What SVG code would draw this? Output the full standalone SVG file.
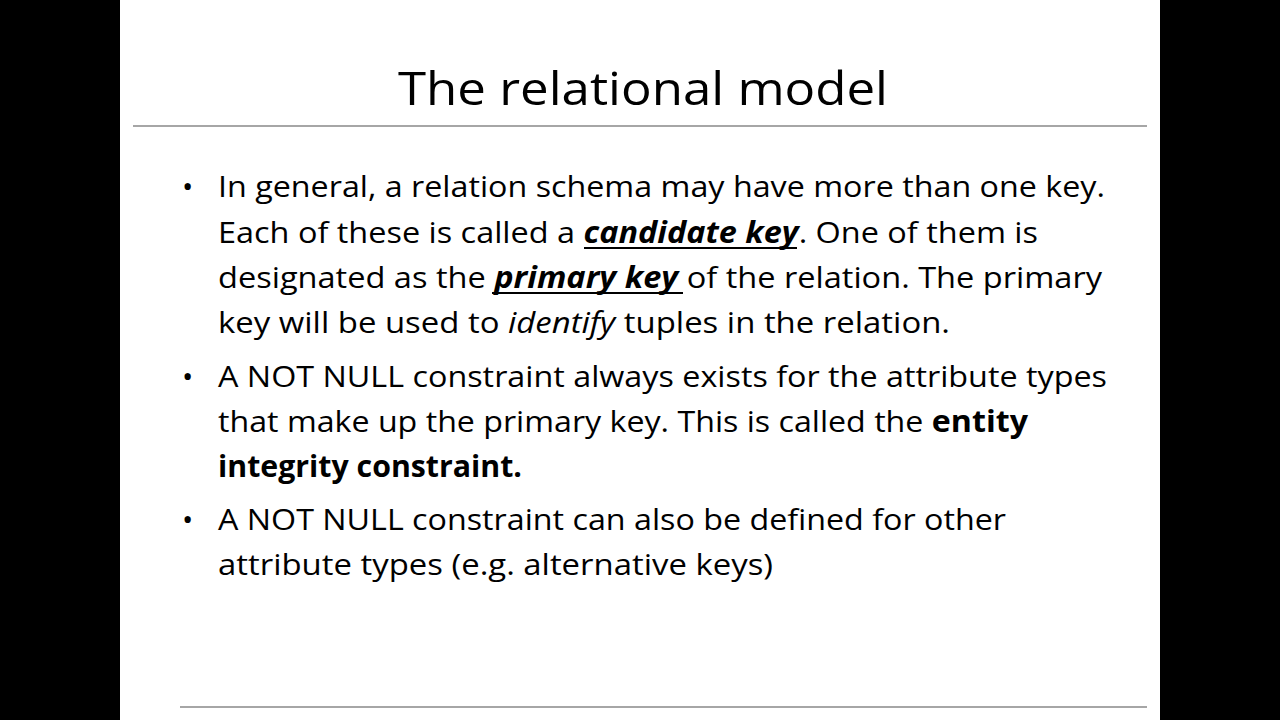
<svg xmlns="http://www.w3.org/2000/svg" width="1280" height="720" viewBox="0 0 1280 720">
<style>
.b{font-family:"Open Sans","Liberation Sans",sans-serif;font-size:30px;fill:#000}
.t{font-family:"Open Sans","Liberation Sans",sans-serif;font-size:46px;fill:#000}
</style>
<rect width="1280" height="720" fill="#000"/>
<rect x="120" y="0" width="1040" height="720" fill="#fff"/>
<g id="title"><text class="t" x="643" y="105" text-anchor="middle" textLength="490" lengthAdjust="spacingAndGlyphs">The relational model</text></g>
<g id="rules" stroke="#888" stroke-width="1.5">
<line x1="133" y1="126" x2="1147" y2="126"/>
<line x1="180" y1="707" x2="1147" y2="707"/>
</g>
<g id="bullets" class="b">
<text x="182" y="197">•</text><text x="182" y="387">•</text><text x="182" y="530">•</text>
</g>
<g id="body" class="b" lengthAdjust="spacingAndGlyphs">
<text x="218" y="197" textLength="887" lengthAdjust="spacingAndGlyphs">In general, a relation schema may have more than one key.</text>
<text x="218" y="243" textLength="820" lengthAdjust="spacingAndGlyphs">Each of these is called a <tspan font-weight="bold" font-style="italic">candidate key</tspan>. One of them is</text>
<text x="218" y="288" textLength="884" lengthAdjust="spacingAndGlyphs">designated as the <tspan font-weight="bold" font-style="italic">primary key </tspan>of the relation. The primary</text>
<text x="218" y="333" textLength="732" lengthAdjust="spacingAndGlyphs">key will be used to <tspan font-style="italic">identify</tspan> tuples in the relation.</text>
<text x="218" y="387" textLength="889" lengthAdjust="spacingAndGlyphs">A NOT NULL constraint always exists for the attribute types</text>
<text x="218" y="432" textLength="810" lengthAdjust="spacingAndGlyphs">that make up the primary key. This is called the <tspan font-weight="bold">entity</tspan></text>
<text x="218" y="477" textLength="304" lengthAdjust="spacingAndGlyphs" font-weight="bold">integrity constraint.</text>
<text x="218" y="530" textLength="788" lengthAdjust="spacingAndGlyphs">A NOT NULL constraint can also be defined for other</text>
<text x="218" y="575" textLength="555" lengthAdjust="spacingAndGlyphs">attribute types (e.g. alternative keys)</text>
</g>
<g id="underlines" stroke="#000" stroke-width="2">
<line x1="584" y1="248" x2="797" y2="248"/>
<line x1="492" y1="293" x2="683" y2="293"/>
</g>
</svg>
